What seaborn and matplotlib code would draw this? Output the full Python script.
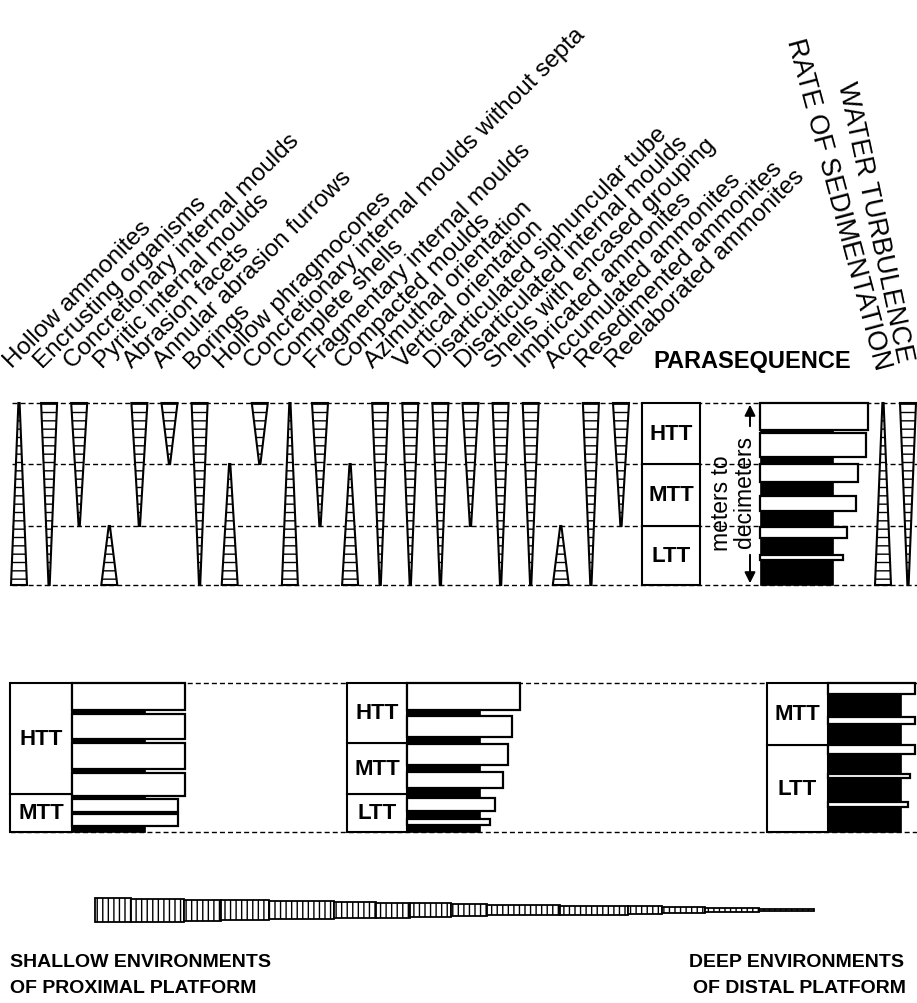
import matplotlib
matplotlib.use("Agg")
import matplotlib.pyplot as plt
import seaborn as sns
from matplotlib.patches import Polygon, Rectangle

sns.set_theme(style="white")
plt.rcParams['font.family'] = ['Liberation Sans', 'DejaVu Sans']
plt.rcParams['text.color'] = 'black'
plt.rcParams['hatch.linewidth'] = 1.0

# ---- taphonomic features (top diagram) ----
features = [
    "Hollow ammonites", "Encrusting organisms", "Concretionary internal moulds",
    "Pyritic internal moulds", "Abrasion facets", "Annular abrasion furrows",
    "Borings", "Hollow phragmocones", "Concretionary internal moulds without septa",
    "Complete shells", "Fragmentary internal moulds", "Compacted moulds",
    "Azimuthal orientation", "Vertical orientation", "Disarticulated siphuncular tube",
    "Disarticulated internal moulds", "Shells with encased grouping",
    "Imbricated ammonites", "Accumulated ammonites", "Resedimented ammonites",
    "Reelaborated ammonites",
]
# levels: 0 = base of LTT, 1 = LTT/MTT, 2 = MTT/HTT, 3 = top of HTT
feat_top = [3, 3, 3, 1, 3, 3, 3, 2, 3, 3, 3, 2, 3, 3, 3, 3, 3, 3, 1, 3, 3]
feat_bot = [0, 0, 1, 0, 1, 2, 0, 0, 2, 0, 1, 0, 0, 0, 0, 1, 0, 0, 0, 0, 1]
feat_wide = ["bot", "top", "top", "bot", "top", "top", "top", "bot", "top", "bot", "top",
             "bot", "top", "top", "top", "top", "top", "top", "bot", "top", "top"]

env_names = ["RATE OF SEDIMENTATION", "WATER TURBULENCE"]
env_top = [3, 3]
env_bot = [0, 0]
env_wide = ["bot", "top"]

# ---- parasequence cycles, bottom to top: black (low turbulence) / white (high) ----
para_black = [25, 17, 16, 14, 7, 3]
para_white = [5, 11, 15, 18, 24, 27]
para_len = [83, 87, 96, 98, 106, 108]
para_zones = ["LTT", "MTT", "HTT"]

shallow_black = [6, 2, 3, 4, 4, 4]
shallow_white = [12, 13, 23, 26, 25, 27]
shallow_len = [106, 106, 113, 113, 113, 113]
shallow_zones = ["MTT", "HTT"]
shallow_bounds = [0, 38, 149]

middle_black = [7, 8, 10, 7, 7, 6]
middle_white = [6, 13, 16, 21, 21, 27]
middle_len = [83, 88, 96, 101, 105, 113]
middle_zones = ["LTT", "MTT", "HTT"]
middle_bounds = [0, 38, 89, 149]

deep_black = [25, 24, 20, 21, 23]
deep_white = [5, 4, 9, 7, 11]
deep_len = [80, 82, 87, 87, 87]
deep_zones = ["LTT", "MTT"]
deep_bounds = [0, 87, 149]

# ---- proximal-distal gradient ----
grad_edges = [95, 131, 184, 221, 269, 334, 376, 410, 451, 487, 560, 628, 662, 705, 759, 814]
grad_height = [24, 23, 21, 19.5, 18, 16.5, 15, 14, 11.5, 10.5, 9, 7.5, 6, 4, 1.5]

FS = 17.5
fig = plt.figure(figsize=(9.17, 10.04), dpi=100)
ax = fig.add_axes([0, 0, 1, 1])
ax.set_xlim(0, 917)
ax.set_ylim(1004, 0)
ax.axis("off")

# top panel geometry
top_y = [586, 527, 465, 404]      # pixel y of levels 0..3
col_x0, col_dx = 19, 30.1
half_w = 8

def dashed(y, x0, x1):
    ax.plot([x0, x1], [y, y], color="black", lw=1.0, dashes=(3.6, 2.2), zorder=1)

for y in top_y:
    dashed(y, 12, 917)

def wedge(cx, lvl_top, lvl_bot, wide):
    yt, yb = top_y[lvl_top], top_y[lvl_bot]
    if wide == "top":
        pts = [(cx - half_w, yt), (cx + half_w, yt), (cx + 0.6, yb), (cx - 0.6, yb)]
    else:
        pts = [(cx - 0.6, yt), (cx + 0.6, yt), (cx + half_w, yb), (cx - half_w, yb)]
    ax.add_patch(Polygon(pts, closed=True, facecolor="white", edgecolor="black",
                         lw=1.5, hatch="--", zorder=3))

for i, name in enumerate(features):
    cx = col_x0 + i * col_dx
    wedge(cx, feat_top[i], feat_bot[i], feat_wide[i])
    ax.text(cx - 7, 369, name, rotation=45, rotation_mode="anchor",
            ha="left", va="baseline", fontsize=FS)

env_x = [883, 908]
for i, name in enumerate(env_names):
    wedge(env_x[i], env_top[i], env_bot[i], env_wide[i])
ax.text(876, 372, env_names[0], rotation=-75, rotation_mode="anchor",
        ha="right", va="baseline", fontsize=19.5)
ax.text(897, 364, env_names[1], rotation=-78, rotation_mode="anchor",
        ha="right", va="baseline", fontsize=19.5)

ax.text(752, 362, "PARASEQUENCE", ha="center", va="center", fontsize=17,
        fontweight="bold")

def zone_box(x0, x1, y_base, bounds, zones):
    for k, z in enumerate(zones):
        y0, y1 = y_base - bounds[k], y_base - bounds[k + 1]
        ax.add_patch(Rectangle((x0, y1), x1 - x0, y0 - y1, facecolor="white",
                               edgecolor="black", lw=1.5, zorder=4))
        ax.text((x0 + x1) / 2, (y0 + y1) / 2, z, ha="center", va="center",
                fontsize=16, fontweight="bold", zorder=5)

def cycles(x0, y_base, blacks, whites, lengths, black_len=73):
    y = y_base
    for b, w, L in zip(blacks, whites, lengths):
        ax.barh(y - b / 2, black_len, height=b, left=x0, color="black",
                edgecolor="black", lw=0.5, zorder=4)
        y -= b
        ax.barh(y - w / 2, L, height=w, left=x0, color="white",
                edgecolor="black", lw=1.6, zorder=5)
        y -= w

# top parasequence
zone_box(642, 700, 586, [0, 59, 121, 182], para_zones)
cycles(760, 586, para_black, para_white, para_len)

ax.annotate("", xy=(750, 403), xytext=(750, 430),
            arrowprops=dict(arrowstyle="-|>", color="black", lw=1.4, mutation_scale=16))
ax.annotate("", xy=(750, 587), xytext=(750, 553),
            arrowprops=dict(arrowstyle="-|>", color="black", lw=1.4, mutation_scale=16))
ax.text(721, 503, "meters to", rotation=90, ha="center", va="center", fontsize=16.5)
ax.text(744, 492, "decimeters", rotation=90, ha="center", va="center", fontsize=16.5)

# bottom panels
dashed(684, 10, 917)
dashed(833, 10, 917)
zone_box(10, 72, 833, shallow_bounds, shallow_zones)
cycles(72, 833, shallow_black, shallow_white, shallow_len)
zone_box(347, 407, 833, middle_bounds, middle_zones)
cycles(407, 833, middle_black, middle_white, middle_len)
zone_box(767, 828, 833, deep_bounds, deep_zones)
cycles(828, 833, deep_black, deep_white, deep_len)
ax.add_patch(Rectangle((0, 680), 10, 160, color="white", zorder=2))

# gradient bar
widths = [grad_edges[k + 1] - grad_edges[k] for k in range(len(grad_height))]
ax.bar(grad_edges[:-1], grad_height, width=widths, bottom=[911 - h / 2 for h in grad_height],
       align="edge", color="white", edgecolor="black", lw=1.3, hatch="|||", zorder=3)

ax.text(10, 963, "SHALLOW ENVIRONMENTS", ha="left", va="center", fontsize=14, fontweight="bold")
ax.text(10, 989, "OF PROXIMAL PLATFORM", ha="left", va="center", fontsize=14, fontweight="bold")
ax.text(904, 963, "DEEP ENVIRONMENTS", ha="right", va="center", fontsize=14, fontweight="bold")
ax.text(693, 989, "OF DISTAL PLATFORM", ha="left", va="center", fontsize=14, fontweight="bold")

fig.savefig("out.png", dpi=100)
